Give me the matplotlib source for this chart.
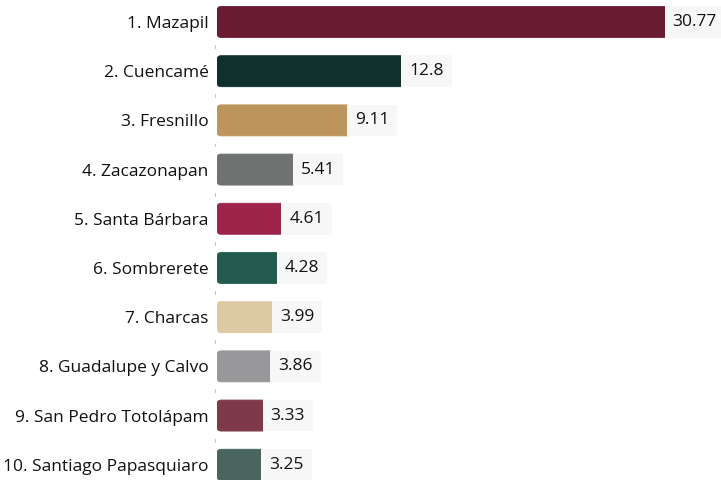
import matplotlib
matplotlib.use("Agg")
import matplotlib.pyplot as plt
from matplotlib.patches import FancyBboxPatch
import matplotlib.transforms as mtransforms

plt.rcParams["font.family"] = ["Open Sans", "DejaVu Sans"]

municipios = ["1. Mazapil", "2. Cuencamé", "3. Fresnillo", "4. Zacazonapan",
              "5. Santa Bárbara", "6. Sombrerete", "7. Charcas",
              "8. Guadalupe y Calvo", "9. San Pedro Totolápam",
              "10. Santiago Papasquiaro"]
valores = [30.77, 12.8, 9.11, 5.41, 4.61, 4.28, 3.99, 3.86, 3.33, 3.25]
etiquetas = ["30.77", "12.8", "9.11", "5.41", "4.61", "4.28", "3.99", "3.86", "3.33", "3.25"]
colores = ["#6A1C32", "#10312B", "#BC955C", "#6F7271", "#9D2449",
           "#235B4E", "#DDC9A3", "#98989A", "#7E3A4A", "#4A655F"]

fig = plt.figure(figsize=(7.21, 4.8), dpi=100)
ax = fig.add_axes([217 / 721, 0, 504 / 721, 1])

pos = list(range(len(valores)))
bars = ax.barh(pos, valores, height=0.63, color=colores)

# swap the plain rectangles for rounded ones
for b, c in zip(bars, colores):
    x0, y0 = b.get_x(), b.get_y()
    w, h = b.get_width(), b.get_height()
    b.remove()
    ax.add_patch(FancyBboxPatch((x0, y0), w, h,
                                boxstyle="round,pad=0,rounding_size=0.28",
                                mutation_aspect=0.29,
                                facecolor=c, edgecolor=c, linewidth=0.6))

for i, (v, t) in enumerate(zip(valores, etiquetas)):
    ax.text(v + 0.32, i, t, ha="left", va="center", fontsize=12.5, color="#111111",
            bbox=dict(boxstyle="square,pad=0.45", facecolor="#f7f7f7", edgecolor="none"))

ax.set_xlim(0, 34.4)
ax.set_ylim(9.31, -0.447)
ax.set_yticks(pos)
ax.set_yticklabels(municipios, fontsize=12.5, color="#111111")
ax.tick_params(axis="y", length=0, pad=6)
ax.set_xticks([])
for s in ax.spines.values():
    s.set_visible(False)

# faint separators on the axis line between bars
trans = mtransforms.blended_transform_factory(ax.transAxes, ax.transData)
for k in range(len(valores) - 1):
    ax.plot([-0.004, -0.004], [k + 0.47, k + 0.53], transform=trans,
            color="#c8c8c8", linewidth=0.8, clip_on=False)

fig.savefig("out.png", dpi=100)
